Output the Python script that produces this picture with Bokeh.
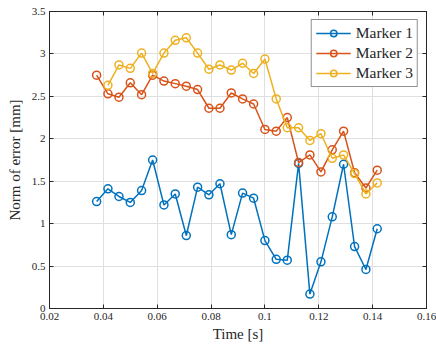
from bokeh.plotting import figure
from bokeh.models import (Range1d, LinearAxis, FixedTicker, CustomJSTickFormatter,
                          Legend, LegendItem)
from bokeh.embed import file_html
from bokeh.resources import INLINE

time_s = [0.0375, 0.0417, 0.0458, 0.0500, 0.0542, 0.0583, 0.0625, 0.0667, 0.0708,
          0.0750, 0.0792, 0.0833, 0.0875, 0.0917, 0.0958, 0.1000, 0.1042, 0.1083,
          0.1125, 0.1167, 0.1208, 0.1250, 0.1292, 0.1333, 0.1375, 0.1417]
marker1 = [1.26, 1.41, 1.32, 1.25, 1.39, 1.75, 1.22, 1.35, 0.86, 1.43, 1.34, 1.47,
           0.87, 1.36, 1.30, 0.80, 0.58, 0.57, 1.71, 0.17, 0.55, 1.08, 1.70, 0.73,
           0.46, 0.94]
marker2 = [2.75, 2.53, 2.49, 2.66, 2.52, 2.75, 2.68, 2.65, 2.62, 2.58, 2.36, 2.36,
           2.54, 2.47, 2.41, 2.11, 2.09, 2.25, 1.72, 1.81, 1.61, 1.87, 2.09, 1.60,
           1.42, 1.63]
time3 = time_s[1:]
marker3 = [2.63, 2.87, 2.83, 3.01, 2.77, 3.01, 3.16, 3.19, 3.01, 2.82, 2.87, 2.81,
           2.89, 2.77, 2.94, 2.47, 2.13, 2.13, 1.98, 2.06, 1.77, 1.81, 1.59, 1.35,
           1.48]
x_ticks = [0.02, 0.04, 0.06, 0.08, 0.10, 0.12, 0.14, 0.16]
y_ticks = [0, 0.5, 1, 1.5, 2, 2.5, 3, 3.5]

colors = ["#0072BD", "#D95319", "#EDB120"]
FONT = "Liberation Serif, serif"
AX = "#262626"

p = figure(width=436, height=346, output_backend="svg", toolbar_location=None,
           x_range=Range1d(0.02, 0.16), y_range=Range1d(0, 3.5),
           min_border_left=49, min_border_right=10, min_border_top=11,
           min_border_bottom=38)
p.background_fill_color = "white"
p.border_fill_color = "white"
p.outline_line_color = AX
p.outline_line_width = 1

fmt = CustomJSTickFormatter(code="""
var s = tick.toFixed(2);
if (s.indexOf('.') >= 0) { s = s.replace(/0+$/, '').replace(/\\.$/, ''); }
return s;
""")
blank = CustomJSTickFormatter(code="return '';")

for ax in p.xaxis:
    ax.ticker = FixedTicker(ticks=x_ticks)
for ax in p.yaxis:
    ax.ticker = FixedTicker(ticks=y_ticks)

for ax in list(p.xaxis) + list(p.yaxis):
    ax.formatter = fmt
    ax.major_tick_in = 4
    ax.major_tick_out = 0
    ax.minor_tick_in = 0
    ax.minor_tick_out = 0
    ax.axis_line_color = AX
    ax.major_tick_line_color = AX
    ax.major_label_text_font = FONT
    ax.major_label_text_font_size = "11px"
    ax.major_label_text_color = AX
    ax.axis_label_text_font = FONT
    ax.axis_label_text_font_size = "15px"
    ax.axis_label_text_font_style = "normal"
    ax.axis_label_text_color = AX
    ax.major_label_standoff = 4

p.xaxis.axis_label = "Time [s]"
p.yaxis.axis_label = "Norm of error [mm]"
p.xaxis.axis_label_standoff = 3
p.yaxis.axis_label_standoff = 6

for loc, tk in (("above", x_ticks), ("right", y_ticks)):
    a = LinearAxis(ticker=FixedTicker(ticks=tk), formatter=blank,
                   major_tick_in=4, major_tick_out=0, minor_tick_in=0,
                   minor_tick_out=0, axis_line_color=AX, major_tick_line_color=AX,
                   major_label_standoff=0, major_label_text_font_size="8px")
    p.add_layout(a, loc)

p.xgrid.ticker = FixedTicker(ticks=x_ticks)
p.ygrid.ticker = FixedTicker(ticks=y_ticks)
p.grid.grid_line_color = "#dfdfdf"
p.grid.grid_line_width = 1

items = []
for name, xs, ys, c in (("Marker 1", time_s, marker1, colors[0]),
                        ("Marker 2", time_s, marker2, colors[1]),
                        ("Marker 3", time3, marker3, colors[2])):
    r1 = p.line(xs, ys, line_color=c, line_width=1.5)
    r2 = p.scatter(xs, ys, marker="circle", size=8, line_color=c, line_width=1.5,
                   fill_color=None)
    items.append(LegendItem(label=name, renderers=[r1, r2]))

leg = Legend(items=items, location="top_right")
leg.label_text_font = FONT
leg.label_text_font_size = "15.5px"
leg.label_text_color = AX
leg.border_line_color = AX
leg.border_line_width = 1
leg.background_fill_color = "white"
leg.background_fill_alpha = 1
leg.glyph_width = 35
leg.glyph_height = 16
leg.label_height = 16
leg.spacing = 2
leg.padding = 4
leg.margin = 8
leg.label_standoff = 5
p.add_layout(leg)

open("out.html", "w").write(file_html(p, INLINE))
